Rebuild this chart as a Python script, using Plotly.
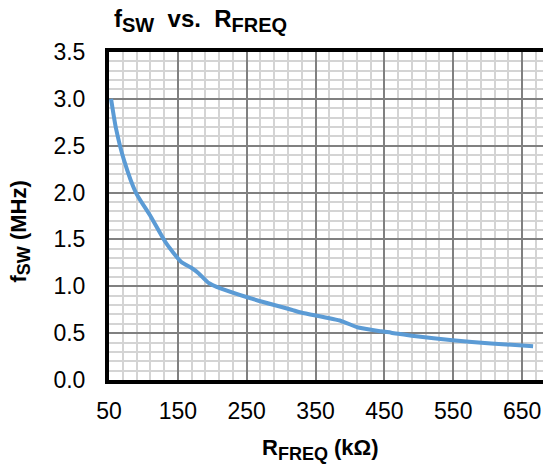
import plotly.graph_objects as go

r_freq_kohm = [53, 60, 72, 89, 111, 133, 155, 169, 180, 194, 213, 252, 290, 315, 329, 387, 412, 445, 460, 493, 549, 605, 666]
f_sw_mhz = [3.0, 2.69, 2.34, 2.0, 1.74, 1.46, 1.26, 1.20, 1.14, 1.04, 0.975, 0.88, 0.80, 0.75, 0.72, 0.63, 0.56, 0.52, 0.505, 0.47, 0.424, 0.39, 0.36]

x_ticks = [50, 150, 250, 350, 450, 550, 650]
y_ticks = [0.0, 0.5, 1.0, 1.5, 2.0, 2.5, 3.0, 3.5]

FONT = "Liberation Sans, Arial, sans-serif"
NB = "\u00a0"

# the page body adds an 8px offset; the figure is sized to fill the 551x464 window
W, H = 543, 456
L, R, T, B = 101, 0, 44, 84
PW, PH = W - L - R, H - T - B

fig = go.Figure()
fig.add_trace(go.Scatter(
    x=r_freq_kohm, y=f_sw_mhz, mode="lines",
    line=dict(color="#5b9bd5", width=4, shape="spline", smoothing=0.6),
    hoverinfo="skip", showlegend=False,
))

fig.update_layout(
    width=W, height=H,
    margin=dict(l=L, r=R, t=T, b=B, autoexpand=False),
    paper_bgcolor="white", plot_bgcolor="white",
    font=dict(family=FONT, size=23, color="black"),
    showlegend=False,
)

fig.update_xaxes(
    range=[50, 692], tickmode="array", tickvals=x_ticks,
    ticktext=[str(v) for v in x_ticks],
    showgrid=True, gridcolor="#808080", gridwidth=1.5,
    minor=dict(dtick=20, tick0=50, showgrid=True, gridcolor="#d4d4d4", gridwidth=1.8),
    showline=True, linecolor="black", linewidth=4, mirror=True,
    ticks="", zeroline=False, ticklabelstandoff=7,
    tickfont=dict(size=23, family=FONT),
)
fig.update_yaxes(
    range=[0, 3.5], tickmode="array", tickvals=y_ticks,
    ticktext=[f"{v:.1f}" for v in y_ticks],
    showgrid=True, gridcolor="#808080", gridwidth=1.5,
    minor=dict(dtick=0.1, tick0=0, showgrid=True, gridcolor="#d4d4d4", gridwidth=1.8),
    showline=True, linecolor="black", linewidth=4, mirror=False,
    ticks="", zeroline=False, ticklabelstandoff=15,
    tickfont=dict(size=23, family=FONT),
)

def sub(s, px):
    return f"<sub><span style='font-size:{px}px'>{s}</span></sub>"

fig.add_annotation(
    text="<b>f" + sub("SW", 20) + NB * 2 + "vs." + NB * 2 + "R" + sub("FREQ", 20) + "</b>",
    xref="paper", yref="paper", x=(104 - L) / PW, y=1, xanchor="left", yanchor="bottom",
    yshift=14, showarrow=False, font=dict(size=24, family=FONT, color="black"),
)
fig.add_annotation(
    text="<b>R" + sub("FREQ", 18) + " (kΩ)</b>",
    xref="paper", yref="paper", x=(312.5 - L) / PW, y=0, xanchor="center", yanchor="top",
    yshift=-53, showarrow=False, font=dict(size=22, family=FONT, color="black"),
)
fig.add_annotation(
    text="<b>f" + sub("SW", 18) + " (MHz)</b>",
    xref="paper", yref="paper", x=(12 - L) / PW, y=(H - B - 223.5) / PH,
    xanchor="center", yanchor="middle", textangle=-90,
    showarrow=False, font=dict(size=22, family=FONT, color="black"),
)

fig.write_html("out.html")
